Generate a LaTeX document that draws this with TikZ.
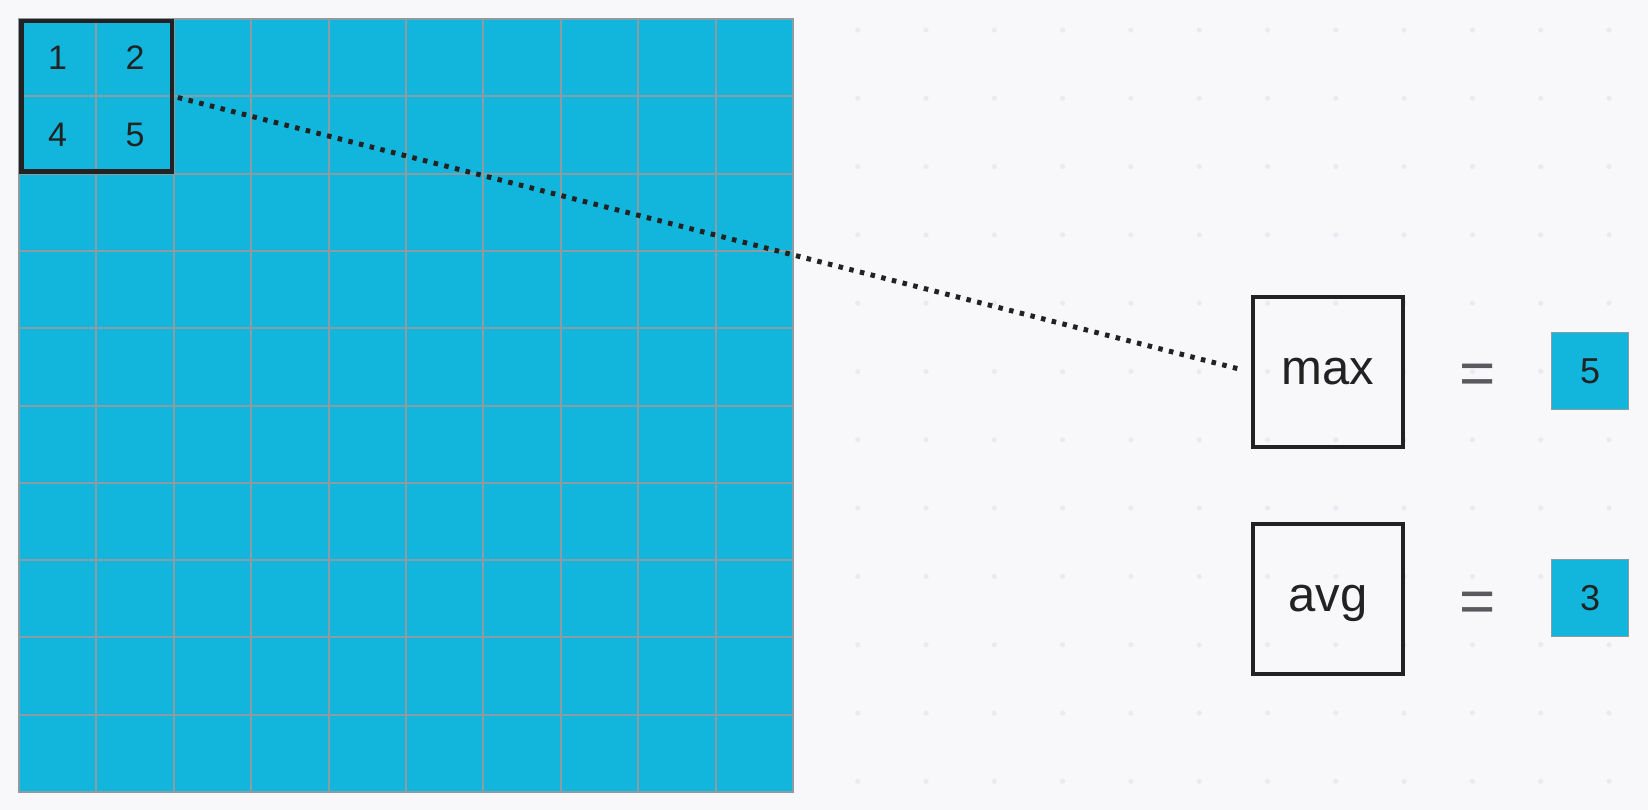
\documentclass[tikz,border=0pt]{standalone}
\usepackage{fontspec}
\setmainfont{Liberation Sans}
\definecolor{bg}{HTML}{F8F8FB}
\definecolor{dotc}{HTML}{EAEAF0}
\definecolor{cell}{HTML}{12B6DC}
\definecolor{gridc}{HTML}{8C9CA3}
\definecolor{ink}{HTML}{222222}
\definecolor{eqc}{HTML}{5A5A5E}
\tikzset{
  opbox/.style={draw=ink, line width=4.5pt, minimum size=150pt, inner sep=0pt, font=\fontsize{49}{54}\selectfont, text=ink, text height=25.4pt, text depth=0pt},
  resbox/.style={draw=gridc, line width=1.5pt, fill=cell, minimum size=77pt, inner sep=0pt, font=\fontsize{36}{40}\selectfont, text=ink},
  eqsign/.style={font=\fontsize{62}{66}\selectfont, text=eqc, inner sep=0pt, yshift=-8pt},
  cellnum/.style={font=\fontsize{34}{38}\selectfont, text=ink, inner sep=0pt},
  poolbox/.style={draw=ink, line width=4.5pt, minimum size=150.5pt, inner sep=0pt},
  link/.style={draw=ink, line width=5pt, dash pattern=on 4.5pt off 6.5pt}
}
\begin{document}
\begin{tikzpicture}[x=1pt, y=-1pt]
\fill[bg] (0,0) rectangle (1648,810);
\useasboundingbox (0,0) rectangle (1648,810);
% background dot grid
\foreach \i in {0,...,11}{
  \foreach \j in {0,...,11}{
    \fill[dotc] ({857.7+68.3*\i},{30+68.3*\j}) circle (2.6pt);
  }
}
% feature map
\fill[cell] (19,19) rectangle (793,792);
\foreach \k in {1,...,9}{
  \draw[gridc, line width=2pt] ({19+77.4*\k},19) -- ({19+77.4*\k},792);
  \draw[gridc, line width=2pt] (19,{19+77.3*\k}) -- (793,{19+77.3*\k});
}
\draw[gridc, line width=2pt] (19,19) rectangle (793,792);
% numbers in the pooling window
\node[cellnum] (n1) at (57.7,58) {1};
\node[cellnum] (n2) at (135.1,58) {2};
\node[cellnum] (n4) at (57.7,135.3) {4};
\node[cellnum] (n5) at (135.1,135.3) {5};
\node[poolbox] (pool) at (96.5,96.5) {};
% operations
\node[opbox] (max) at (1328,372) {max};
\node[opbox] (avg) at (1328,599) {avg};
\node[eqsign] (eq1) at (1478,371) {=};
\node[eqsign] (eq2) at (1478,599) {=};
\node[resbox] (r1) at (1590,371) {5};
\node[resbox] (r2) at (1590,598) {3};
% connector
\draw[link, shorten <=4pt, shorten >=11pt] (pool.east) -- (max.west);
\end{tikzpicture}
\end{document}
